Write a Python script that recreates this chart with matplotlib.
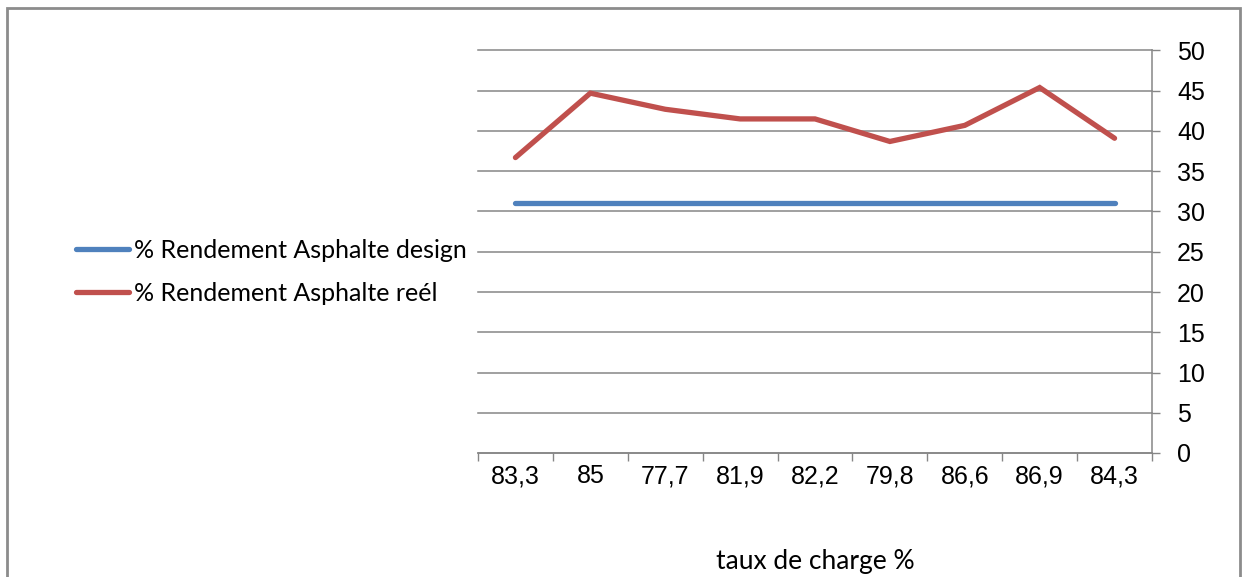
import matplotlib.pyplot as plt
from matplotlib import font_manager
from matplotlib.patches import Rectangle

# taux de charge (categories) and yields
categories = ['83,3', '85', '77,7', '81,9', '82,2', '79,8', '86,6', '86,9', '84,3']
rendement_design = [31, 31, 31, 31, 31, 31, 31, 31, 31]
rendement_reel = [36.7, 44.7, 42.7, 41.5, 41.5, 38.7, 40.7, 45.4, 39.1]
y_ticks = [0, 5, 10, 15, 20, 25, 30, 35, 40, 45, 50]

names = {f.name for f in font_manager.fontManager.ttflist}
tick_font = 'Liberation Sans Narrow' if 'Liberation Sans Narrow' in names else 'Liberation Sans'
text_font = 'Lato'

grid_col = '#868686'

fig = plt.figure(figsize=(12.48, 5.77), dpi=100)
ax = fig.add_axes([478 / 1248, 1 - 453 / 577, (1152 - 478) / 1248, (453 - 50.5) / 577])

x = list(range(len(categories)))
ax.plot(x, rendement_design, color='#4F81BD', lw=3.8, solid_capstyle='round',
        label='% Rendement Asphalte design')
ax.plot(x, rendement_reel, color='#C0504D', lw=3.8, solid_capstyle='round',
        solid_joinstyle='miter', label='% Rendement Asphalte reél')

ax.set_xlim(-0.5, len(categories) - 0.5)
ax.set_ylim(0, 50)

# y axis on the right side
ax.yaxis.tick_right()
ax.set_yticks(y_ticks)
ax.tick_params(axis='y', direction='out', length=6, width=1, color=grid_col, pad=12,
               labelsize=18)
for t in ax.get_yticklabels():
    t.set_fontfamily('Liberation Sans')

# category boundaries get the ticks, labels sit in between
ax.set_xticks([i - 0.5 for i in range(len(categories) + 1)], minor=False)
ax.set_xticklabels([])
ax.set_xticks(x, minor=True)
ax.set_xticklabels(categories, minor=True, fontfamily=tick_font, fontsize=18)
ax.tick_params(axis='x', which='major', direction='out', length=6, width=1, color=grid_col)
ax.tick_params(axis='x', which='minor', length=0, pad=8)

ax.grid(axis='y', color=grid_col, lw=1.1)
for gl in ax.get_ygridlines():
    gl.set_clip_on(False)
ax.set_axisbelow(True)
for side in ['left', 'top']:
    ax.spines[side].set_visible(False)
for side in ['right', 'bottom']:
    ax.spines[side].set_color(grid_col)
    ax.spines[side].set_linewidth(1.1)

ax.set_xlabel('taux de charge %', fontfamily=text_font, fontsize=19, labelpad=44)

fig.legend(loc='center left', bbox_to_anchor=(53 / 1248, 1 - 272 / 577), frameon=False,
           prop={'family': text_font, 'size': 18}, handlelength=2.15, handletextpad=0.2,
           labelspacing=0.8)

# chart border
fig.patches.append(Rectangle((7 / 1248, -0.05), (1240 - 7) / 1248, 1.05 - 8 / 577,
                             transform=fig.transFigure, fill=False, edgecolor='#8c8c8c', lw=2))

fig.savefig('out.png', dpi=100)
